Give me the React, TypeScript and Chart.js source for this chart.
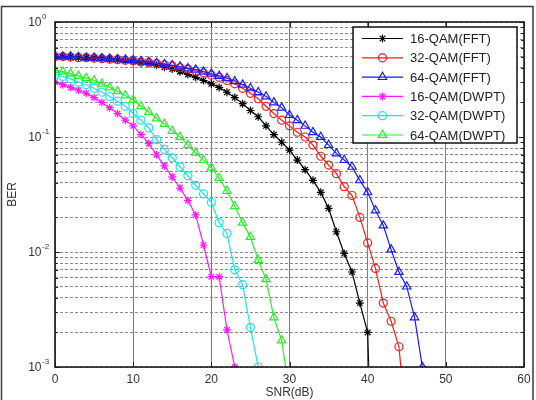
import React, { useEffect, useRef } from 'react';
import { Chart, registerables } from 'chart.js';

Chart.register(...registerables);

// ---------- data ----------
const snrDb = [
  0, 1, 2, 3, 4, 5, 6, 7, 8, 9, 10, 11, 12, 13, 14, 15, 16, 17, 18, 19, 20, 21, 22, 23,
  24, 25, 26, 27, 28, 29, 30, 31, 32, 33, 34, 35, 36, 37, 38, 39, 40, 41, 42, 43, 44, 45, 46, 47,
];

const berQam16Fft = [
  0.5, 0.5, 0.495, 0.49, 0.49, 0.485, 0.48, 0.475, 0.47, 0.46, 0.455, 0.445, 0.435, 0.42,
  0.405, 0.39, 0.37, 0.35, 0.33, 0.31, 0.29, 0.27, 0.245, 0.22, 0.195, 0.17, 0.15, 0.125,
  0.105, 0.09, 0.077, 0.063, 0.052, 0.042, 0.033, 0.024, 0.015, 0.0097, 0.0067, 0.0036,
  0.002, 0.00001,
];

const berQam32Fft = [
  0.5, 0.5, 0.495, 0.49, 0.49, 0.485, 0.48, 0.475, 0.47, 0.465, 0.46, 0.45, 0.445, 0.435,
  0.425, 0.415, 0.4, 0.39, 0.375, 0.36, 0.345, 0.33, 0.31, 0.29, 0.265, 0.24, 0.215, 0.185,
  0.16, 0.14, 0.125, 0.11, 0.1, 0.085, 0.068, 0.057, 0.048, 0.037, 0.031, 0.02, 0.012,
  0.0072, 0.0036, 0.0025, 0.0015, 0.0003,
];

const berQam64Fft = [
  0.5, 0.5, 0.5, 0.495, 0.49, 0.49, 0.485, 0.48, 0.475, 0.47, 0.465, 0.455, 0.45, 0.44,
  0.43, 0.42, 0.41, 0.395, 0.385, 0.37, 0.355, 0.34, 0.325, 0.305, 0.285, 0.265, 0.245,
  0.225, 0.2, 0.18, 0.155, 0.14, 0.125, 0.11, 0.1, 0.085, 0.072, 0.063, 0.055, 0.042,
  0.033, 0.023, 0.017, 0.0105, 0.0067, 0.005, 0.0027, 0.001,
];

const berQam16Dwpt = [
  0.3, 0.285, 0.27, 0.255, 0.24, 0.22, 0.2, 0.18, 0.16, 0.14, 0.125, 0.105, 0.088, 0.07,
  0.056, 0.045, 0.036, 0.028, 0.021, 0.0115, 0.0061, 0.0061, 0.0021, 0.001,
];

const berQam32Dwpt = [
  0.35, 0.335, 0.32, 0.3, 0.285, 0.265, 0.245, 0.225, 0.205, 0.185, 0.16, 0.14, 0.12,
  0.095, 0.078, 0.066, 0.055, 0.046, 0.038, 0.032, 0.027, 0.018, 0.0145, 0.007, 0.0052,
  0.0022, 0.001,
];

const berQam64Dwpt = [
  0.38, 0.37, 0.355, 0.34, 0.325, 0.31, 0.29, 0.27, 0.25, 0.23, 0.21, 0.185, 0.165, 0.145,
  0.13, 0.113, 0.1, 0.085, 0.073, 0.063, 0.054, 0.044, 0.034, 0.025, 0.018, 0.0135,
  0.0085, 0.0058, 0.0027, 0.0017, 0.0006,
];

const seriesLabels = [
  '16-QAM(FFT)',
  '32-QAM(FFT)',
  '64-QAM(FFT)',
  '16-QAM(DWPT)',
  '32-QAM(DWPT)',
  '64-QAM(DWPT)',
];

const xTickValues = [0, 10, 20, 30, 40, 50, 60];
const yDecadeExponents = [0, -1, -2, -3];
const ySignificands = [1, 2, 3, 4, 5, 6, 7, 8, 9];

// ---------- styles ----------
const seriesColors = ['#000000', '#ff1a1a', '#1a1aff', '#ff1aff', '#1ae6e6', '#2aee2a'];
const seriesMarkers = ['star', 'circle', 'triangle', 'star', 'circle', 'triangle'];
const seriesRadius = [4, 4, 4.8, 4, 4, 4.8];

const FONT = '"Liberation Sans", Arial, Helvetica, sans-serif';
const TEXT_COLOR = '#333333';

function drawMarker(ctx: CanvasRenderingContext2D, style: string, x: number, y: number, r: number) {
  ctx.beginPath();
  if (style === 'circle') {
    ctx.arc(x, y, r, 0, Math.PI * 2);
  } else if (style === 'triangle') {
    for (let k = 0; k < 3; k++) {
      const a = (k * 2 * Math.PI) / 3;
      const px = x + Math.sin(a) * r;
      const py = y - Math.cos(a) * r;
      if (k === 0) ctx.moveTo(px, py);
      else ctx.lineTo(px, py);
    }
    ctx.closePath();
  } else {
    for (let k = 0; k < 4; k++) {
      const a = (k * Math.PI) / 4;
      ctx.moveTo(x - Math.cos(a) * r, y - Math.sin(a) * r);
      ctx.lineTo(x + Math.cos(a) * r, y + Math.sin(a) * r);
    }
  }
  ctx.stroke();
}

const matlabLook = {
  id: 'matlabLook',
  beforeDraw(chart: any) {
    const ctx: CanvasRenderingContext2D = chart.ctx;
    ctx.save();
    ctx.fillStyle = '#ffffff';
    ctx.fillRect(0, 0, chart.width, chart.height);
    ctx.strokeStyle = '#3a3a3a';
    ctx.lineWidth = 1.5;
    ctx.strokeRect(1.5, 6.5, 531.5, 400);
    ctx.restore();
  },
  afterDraw(chart: any) {
    const ctx: CanvasRenderingContext2D = chart.ctx;
    const ca = chart.chartArea;
    const xs = chart.scales.x;
    const ys = chart.scales.y;
    ctx.save();

    // inside tick marks
    ctx.strokeStyle = '#222';
    ctx.lineWidth = 1;
    ctx.beginPath();
    ys.ticks.forEach((t: any) => {
      const y = Math.round(ys.getPixelForValue(t.value)) + 0.5;
      const lg = Math.log10(t.value);
      const len = Math.abs(lg - Math.round(lg)) < 1e-6 ? 5 : 3;
      ctx.moveTo(ca.left, y);
      ctx.lineTo(ca.left + len, y);
      ctx.moveTo(ca.right, y);
      ctx.lineTo(ca.right - len, y);
    });
    xs.ticks.forEach((t: any) => {
      const x = Math.round(xs.getPixelForValue(t.value)) + 0.5;
      ctx.moveTo(x, ca.bottom);
      ctx.lineTo(x, ca.bottom - 5);
      ctx.moveTo(x, ca.top);
      ctx.lineTo(x, ca.top + 5);
    });
    ctx.stroke();

    // axes box
    ctx.strokeStyle = '#1a1a1a';
    ctx.lineWidth = 1.6;
    ctx.strokeRect(ca.left, ca.top, ca.right - ca.left, ca.bottom - ca.top);

    // y decade labels with superscript exponents
    ctx.fillStyle = TEXT_COLOR;
    ctx.textBaseline = 'middle';
    yDecadeExponents.forEach((e) => {
      const y = ys.getPixelForValue(Math.pow(10, e));
      ctx.font = `12px ${FONT}`;
      ctx.textAlign = 'right';
      ctx.fillText('10', 41.5, y + 1);
      ctx.font = `8px ${FONT}`;
      ctx.textAlign = 'left';
      ctx.fillText(e === 0 ? '0' : '-' + Math.abs(e), 42, y - 5);
    });

    // legend
    const lx = 353;
    const ly = 27;
    const lw = 164;
    const lh = 116;
    ctx.fillStyle = '#ffffff';
    ctx.fillRect(lx, ly, lw, lh);
    ctx.strokeStyle = '#111';
    ctx.lineWidth = 1.5;
    ctx.strokeRect(lx, ly, lw, lh);
    chart.data.datasets.forEach((ds: any, i: number) => {
      const rowY = ly + 11.5 + i * 19.3;
      ctx.strokeStyle = ds.borderColor;
      ctx.lineWidth = 1.2;
      ctx.beginPath();
      ctx.moveTo(362, rowY);
      ctx.lineTo(403, rowY);
      ctx.stroke();
      drawMarker(ctx, ds.pointStyle, 382.5, rowY, ds.pointRadius);
      ctx.fillStyle = '#222';
      ctx.font = `13px ${FONT}`;
      ctx.textAlign = 'left';
      ctx.textBaseline = 'middle';
      ctx.fillText(ds.label, 410, rowY + 1);
    });

    ctx.restore();
  },
};

export default function App() {
  const canvasRef = useRef<HTMLCanvasElement | null>(null);

  useEffect(() => {
    const canvas = canvasRef.current;
    if (!canvas) return;

    const seriesBer = [berQam16Fft, berQam32Fft, berQam64Fft, berQam16Dwpt, berQam32Dwpt, berQam64Dwpt];
    const yGridValues: number[] = [];
    [...yDecadeExponents].reverse().forEach((e) => {
      ySignificands.forEach((s) => {
        const v = s * Math.pow(10, e);
        if (v <= 1.0000001) yGridValues.push(v);
      });
    });

    const chart = new Chart(canvas, {
      type: 'line',
      data: {
        datasets: seriesBer.map((ber, i) => ({
          label: seriesLabels[i],
          data: ber.map((v, k) => ({ x: snrDb[k], y: v })),
          borderColor: seriesColors[i],
          backgroundColor: 'transparent',
          pointBackgroundColor: 'transparent',
          pointBorderColor: seriesColors[i],
          pointStyle: seriesMarkers[i] as any,
          pointRadius: seriesRadius[i],
          pointBorderWidth: 1.2,
          borderWidth: 1.2,
          tension: 0,
          fill: false,
          order: 5 - i,
        })),
      },
      options: {
        responsive: false,
        animation: false,
        layout: { padding: { left: 0, top: 22, right: 12, bottom: 0 } },
        plugins: {
          legend: { display: false },
          tooltip: { enabled: false },
        },
        scales: {
          x: {
            type: 'linear',
            min: 0,
            max: 60,
            afterBuildTicks: (s: any) => {
              s.ticks = xTickValues.map((v) => ({ value: v }));
            },
            ticks: {
              color: TEXT_COLOR,
              font: { family: FONT, size: 12 },
              padding: 5,
              maxRotation: 0,
              autoSkip: false,
            },
            grid: { color: '#7a7a7a', lineWidth: 1, drawTicks: false },
            border: { display: false },
            title: {
              display: true,
              text: 'SNR(dB)',
              color: TEXT_COLOR,
              font: { family: FONT, size: 12 },
              padding: { top: 0, bottom: 0 },
            },
            afterFit: (s: any) => {
              s.height = 33;
            },
          },
          y: {
            type: 'logarithmic',
            min: 0.001,
            max: 1,
            afterBuildTicks: (s: any) => {
              s.ticks = yGridValues.map((v) => ({ value: v }));
            },
            ticks: { display: false, autoSkip: false },
            grid: { color: '#8a8a8a', lineWidth: 1, drawTicks: false },
            border: { display: false, dash: [3, 2] },
            title: {
              display: true,
              text: 'BER',
              color: TEXT_COLOR,
              font: { family: FONT, size: 12 },
              padding: { top: 5, bottom: 0 },
            },
            afterFit: (s: any) => {
              s.width = 55;
            },
          },
        },
      } as any,
      plugins: [matlabLook],
    });

    return () => chart.destroy();
  }, []);

  return (
    <div style={{ position: 'absolute', left: 0, top: 0, width: 536, height: 400, background: '#fff' }}>
      <canvas ref={canvasRef} width={536} height={400} style={{ display: 'block' }} />
    </div>
  );
}
